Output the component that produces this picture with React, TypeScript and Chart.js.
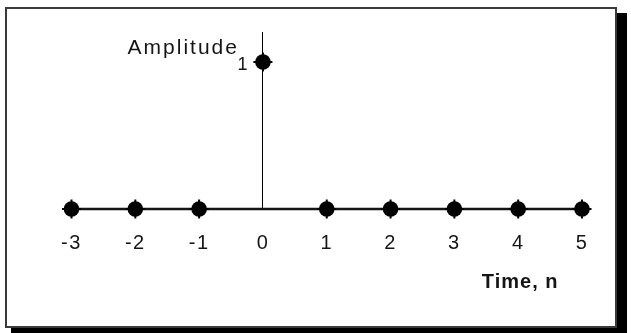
import React, { useEffect, useRef } from "react";
import { Chart, registerables } from "chart.js";

Chart.register(...registerables);

// ---- data ----
const timeN = [-3, -2, -1, 0, 1, 2, 3, 4, 5];
const amplitude = [0, 0, 0, 1, 0, 0, 0, 0, 0];
const baselineN = [-3, 5];
const baselineY = [0, 0];
const xTickValues = [-3, -2, -1, 0, 1, 2, 3, 4, 5];
const yTickValues = [1];
const yAxisTitle = "Amplitude";
const xAxisTitle = "Time, n";

const FONT = "'Liberation Sans', Arial, Helvetica, sans-serif";
const INK = "#151515";

const titlesPlugin = {
  id: "impulseTitles",
  beforeDraw(chart: any) {
    // object-positioned y axis gets no label padding: move the "1" left of the stem
    const ys = chart.scales.y;
    const items = ys.getLabelItems(chart.chartArea);
    items.forEach((it: any) => {
      if (!it.__shifted) {
        it.options.translation[0] -= 14;
        it.__shifted = true;
      }
    });
    chart.ctx.letterSpacing = "1.5px";
  },
  afterDraw(chart: any) {
    const ctx = chart.ctx;
    const xs = chart.scales.x;
    const ys = chart.scales.y;
    ctx.save();
    ctx.fillStyle = INK;
    ctx.textBaseline = "alphabetic";
    ctx.letterSpacing = "2px";
    ctx.font = `21px ${FONT}`;
    ctx.textAlign = "right";
    ctx.fillText(yAxisTitle, xs.getPixelForValue(0) - 24, ys.getPixelForValue(1) - 8);
    ctx.letterSpacing = "1px";
    ctx.font = `bold 20px ${FONT}`;
    ctx.textAlign = "center";
    ctx.fillText(xAxisTitle, xs.getPixelForValue(4) + 2, ys.getPixelForValue(0) + 79);
    ctx.restore();
    ctx.letterSpacing = "0px";
  },
};

export default function App() {
  const ref = useRef<HTMLCanvasElement | null>(null);

  useEffect(() => {
    if (!ref.current) return;
    const points = timeN.map((n, i) => ({ x: n, y: amplitude[i] }));
    const baseline = baselineN.map((n, i) => ({ x: n, y: baselineY[i] }));
    const chart = new Chart(ref.current, {
      type: "scatter",
      data: {
        datasets: [
          {
            label: "x[n]",
            data: points,
            showLine: false,
            pointStyle: "circle",
            pointRadius: 7.8,
            pointHoverRadius: 7.8,
            backgroundColor: "#000",
            borderColor: "#000",
            borderWidth: 0,
            clip: false,
          } as any,
          {
            label: "x[n] tips",
            data: points,
            showLine: false,
            pointStyle: "cross",
            pointRadius: 9.5,
            pointHoverRadius: 9.5,
            borderColor: "#000",
            borderWidth: 2,
            clip: false,
          } as any,
          {
            label: "zero line",
            data: baseline,
            showLine: true,
            pointRadius: 0,
            borderColor: INK,
            borderWidth: 2.6,
            clip: false,
          } as any,
        ],
      },
      options: {
        responsive: false,
        animation: false,
        events: [],
        layout: { padding: { left: 71.5, right: 49, top: 32.6, bottom: 124 } },
        plugins: {
          legend: { display: false },
          tooltip: { enabled: false },
          title: { display: false },
        },
        scales: {
          x: {
            type: "linear",
            min: -3,
            max: 5,
            position: { y: 0 } as any,
            grid: { display: false },
            border: { display: false },
            afterBuildTicks: (axis: any) => {
              axis.ticks = xTickValues.map((v) => ({ value: v }));
            },
            ticks: {
              autoSkip: false,
              maxRotation: 0,
              padding: 14,
              color: INK,
              font: { family: FONT, size: 20 },
            },
          },
          y: {
            type: "linear",
            min: 0,
            max: 1.2,
            position: { x: 0 } as any,
            grid: { display: false },
            border: { display: true, color: "#000", width: 1 },
            afterBuildTicks: (axis: any) => {
              axis.ticks = yTickValues.map((v) => ({ value: v }));
            },
            ticks: {
              padding: 0,
              labelOffset: 3,
              color: INK,
              font: { family: FONT, size: 18 },
            },
          },
        },
      } as any,
      plugins: [titlesPlugin as any],
    });
    return () => chart.destroy();
  }, []);

  return (
    <div style={{ position: "absolute", left: 0, top: 0, width: 631, height: 333, background: "#fff", overflow: "hidden" }}>
      <div
        style={{
          position: "absolute",
          left: 5,
          top: 7,
          width: 612,
          height: 321,
          boxSizing: "border-box",
          border: "2px solid #3a3a3a",
          background: "#fff",
          boxShadow: "6px 6px 0 #000, 10px 6px 0 #000",
        }}
      />
      <canvas
        ref={ref}
        width={631}
        height={333}
        style={{ position: "absolute", left: 0, top: 0, width: 631, height: 333 }}
      />
    </div>
  );
}
